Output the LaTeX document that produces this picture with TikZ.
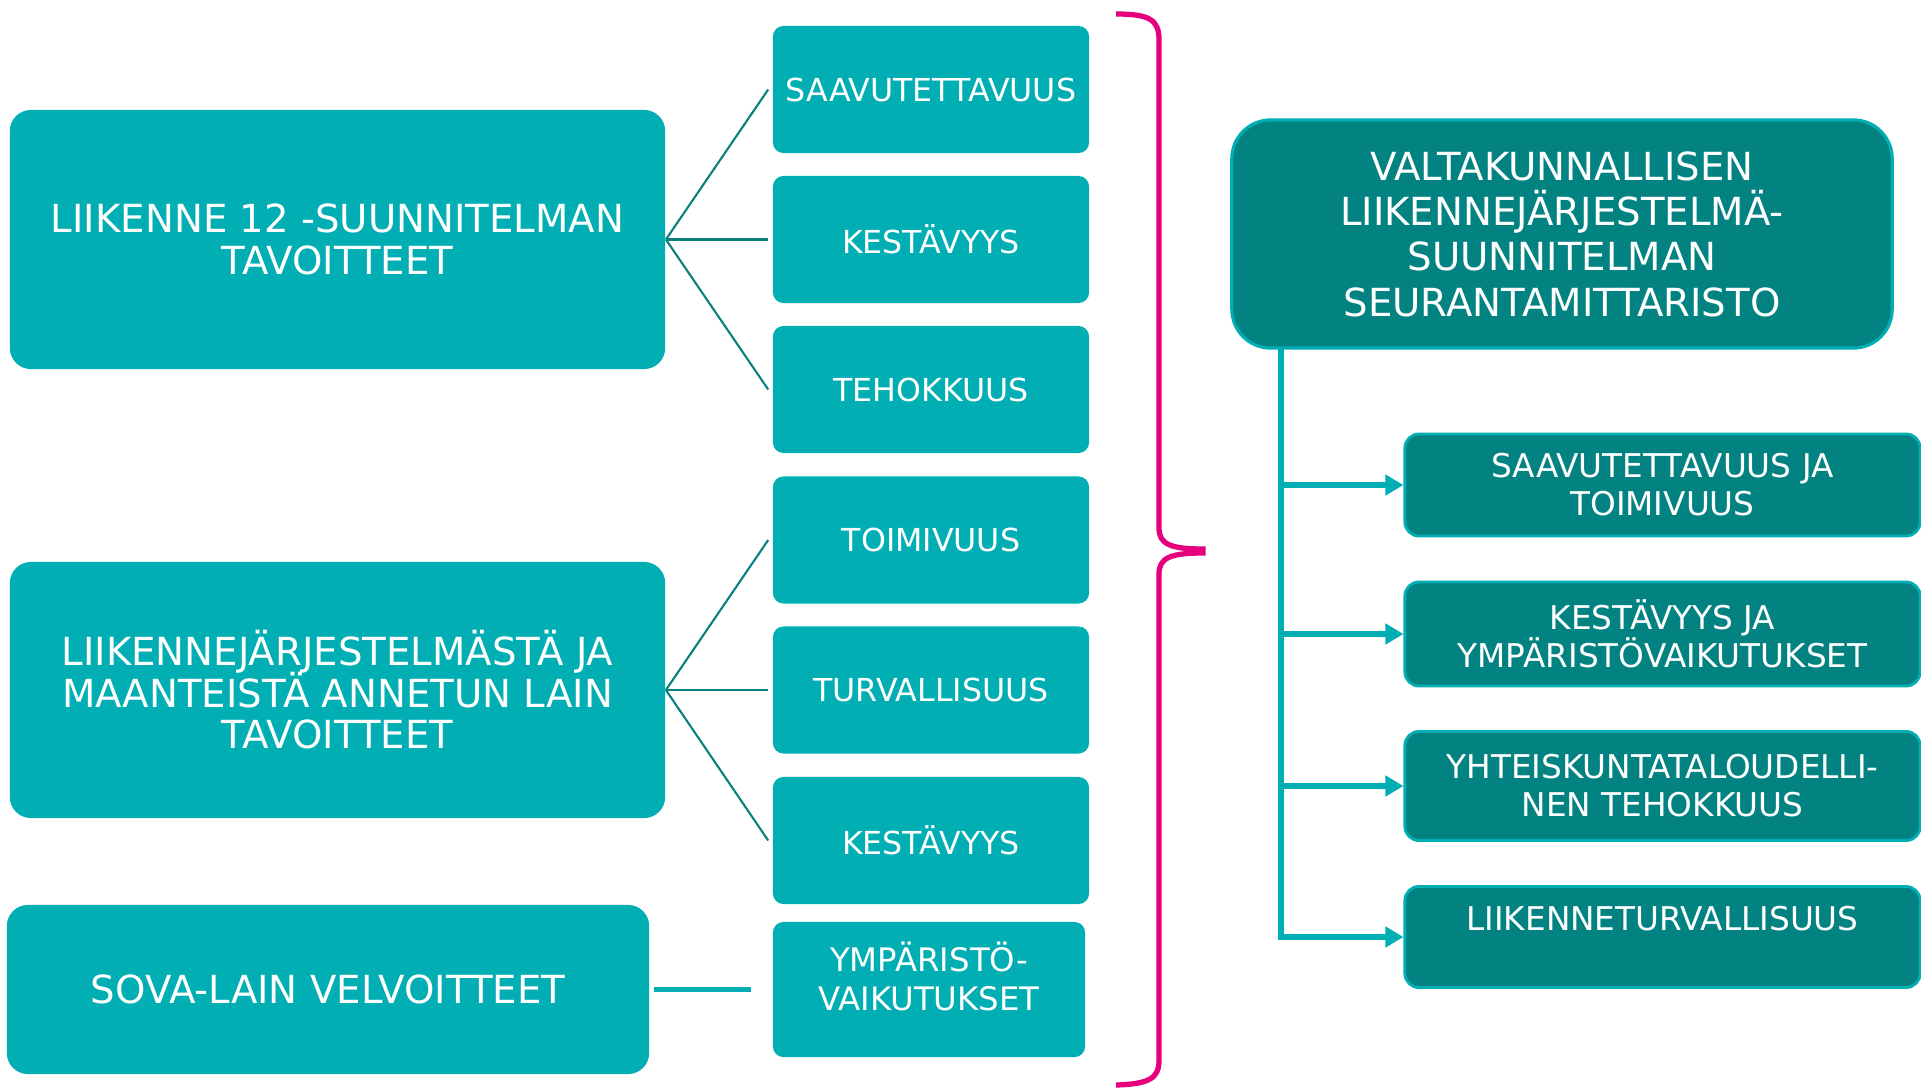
\documentclass[tikz,border=0pt]{standalone}
\usepackage{fontspec}
\setmainfont{DejaVu Sans}
\usetikzlibrary{arrows.meta}
\definecolor{lteal}{RGB}{0,174,179}
\definecolor{dteal}{RGB}{3,130,130}
\definecolor{lineteal}{RGB}{10,128,128}
\definecolor{mymagenta}{RGB}{230,0,126}
\tikzstyle{bigbox}=[fill=lteal,text=white,rounded corners=6pt,inner sep=0pt,align=center,font={\fontsize{11}{11.8}\selectfont\lineskiplimit=-5pt}]
\tikzstyle{midbox}=[fill=lteal,text=white,rounded corners=3pt,inner sep=0pt,align=center,minimum width=3.16cm,minimum height=1.27cm,font=\fontsize{9}{11.1}\selectfont]
\tikzstyle{headbox}=[fill=dteal,draw=lteal,line width=0.9pt,text=white,rounded corners=11pt,inner sep=0pt,align=center,font=\fontsize{11}{12.9}\selectfont]
\tikzstyle{subbox}=[fill=dteal,draw=lteal,line width=0.8pt,text=white,rounded corners=4pt,inner sep=0pt,align=center,minimum width=5.15cm,font=\fontsize{9.3}{10.8}\selectfont]
\tikzstyle{myline}=[lineteal,line width=0.6pt]
\tikzstyle{myarrow}=[lteal,line width=1.5pt,-{Triangle[length=0.18cm,width=0.2cm]}]

\begin{document}
\begin{tikzpicture}[x=0.01cm,y=-0.01cm]
		\useasboundingbox (0,0) rectangle (1921,1088);

		\node[bigbox,minimum width=6.55cm,minimum height=2.59cm] (goals) at (337.5,239.5) {LIIKENNE 12 -SUUNNITELMAN\\TAVOITTEET};
		\node[bigbox,minimum width=6.55cm,minimum height=2.56cm] (law) at (337.5,690) {LIIKENNEJÄRJESTELMÄSTÄ JA\\MAANTEISTÄ ANNETUN LAIN\\TAVOITTEET};
		\node[bigbox,minimum width=6.42cm,minimum height=1.69cm] (sova) at (328,989.5) {SOVA-LAIN VELVOITTEET};

		\foreach \i/\y/\t in {1/89.5/SAAVUTETTAVUUS,2/239.5/KESTÄVYYS,3/389.5/TEHOKKUUS,4/540/TOIMIVUUS,5/690/TURVALLISUUS,6/840.5/KESTÄVYYS} {
			\node[midbox] (m\i) at (931,\y) {\t};
		}
		\node[midbox,minimum width=3.12cm,minimum height=1.35cm,font=\fontsize{9.2}{11.1}\selectfont] (m7) at (929,989.5) {YMPÄRISTÖ-\\VAIKUTUKSET\\[-3.5pt]\mbox{}};

		\foreach \i in {1,2,3} { \draw[myline] (goals.east) -- ([xshift=-0.04cm]m\i.west);}
		\foreach \i in {4,5,6} { \draw[myline] (law.east) -- ([xshift=-0.04cm]m\i.west);}
		\draw[lteal,line width=1.3pt] ([xshift=0.04cm]sova.east) -- ([xshift=-0.21cm]m7.west);

		% brace
		\draw[mymagenta,line width=1.5pt] (1116,14) .. controls (1150,14) and (1159,20) .. (1159,40) -- (1159,528) .. controls (1159,544) and (1170,549) .. (1203,549) -- (1203,553) .. controls (1170,553) and (1159,558) .. (1159,574) -- (1159,1060) .. controls (1159,1078) and (1150,1084) .. (1116,1085);

		\node[headbox,minimum width=6.6cm,minimum height=2.28cm] (head) at (1562,234) {VALTAKUNNALLISEN\\LIIKENNEJÄRJESTELMÄ-\\SUUNNITELMAN\\SEURANTAMITTARISTO};
		\foreach \i/\y/\h/\t in {1/485/1.02/{SAAVUTETTAVUUS JA\\TOIMIVUUS},2/634/1.04/{KESTÄVYYS JA\\YMPÄRISTÖVAIKUTUKSET},3/786/1.09/{YHTEISKUNTATALOUDELLI-\\NEN TEHOKKUUS},4/937/1.01/{LIIKENNETURVALLISUUS\\\mbox{}}} {
			\node[subbox,minimum height=\h cm] (s\i) at (1662.5,\y) {\t};
		}

		\coordinate (t) at (1281,348);
		\foreach \i in {1,2,3} { \draw[myarrow] (t |- s\i.west) -- (s\i.west);}
		\draw[myarrow] (t) |- (s4.west);
	\end{tikzpicture}
\end{document}
